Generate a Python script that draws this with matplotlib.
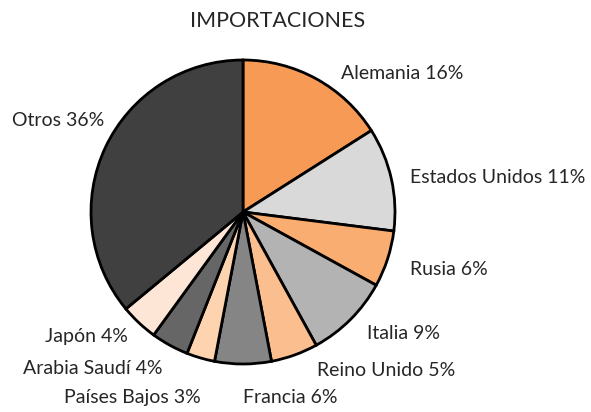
import matplotlib
matplotlib.use("Agg")
import matplotlib.pyplot as plt

# data
paises = ["Alemania", "Estados Unidos", "Rusia", "Italia", "Reino Unido",
          "Francia", "Países Bajos", "Arabia Saudí", "Japón", "Otros"]
porcentajes = [16, 11, 6, 9, 5, 6, 3, 4, 4, 36]
colores = ["#F79A55", "#D9D9D9", "#F9AD70", "#B3B3B3", "#FBBE8E",
           "#858585", "#FDD4AF", "#666666", "#FEE6D6", "#404040"]

# label spots (pie units) and alignment
pos_etiquetas = [(0.645, 0.91), (1.10, 0.23), (1.10, -0.38), (0.815, -0.80),
                 (0.49, -1.04), (0.0, -1.22), (-0.28, -1.22), (-0.53, -1.03),
                 (-0.76, -0.82), (-0.91, 0.60)]
alineacion = ["left", "left", "left", "left", "left",
              "left", "right", "right", "right", "right"]

plt.rcParams['font.family'] = ['Lato', 'DejaVu Sans']

fig = plt.figure(figsize=(5.91, 4.12), dpi=100)
ax = fig.add_axes([0, 0, 1, 1])

etiquetas = [f"{p} {v}%" for p, v in zip(paises, porcentajes)]
wedges, textos = ax.pie(porcentajes, colors=colores, startangle=90,
                        counterclock=False, labels=etiquetas,
                        wedgeprops=dict(edgecolor="black", linewidth=2),
                        textprops=dict(fontsize=14, color="#262626"))

for t, (x, y), ha in zip(textos, pos_etiquetas, alineacion):
    t.set_position((x, y))
    t.set_ha(ha)
    t.set_va("center")

ax.set_xlim(-243 / 152, (591 - 243) / 152)
ax.set_ylim((212 - 412) / 152, 212 / 152)
ax.set_aspect("auto")
ax.axis("off")

fig.text(278 / 591, 1 - 21 / 412, "IMPORTACIONES", ha="center", va="center",
         fontsize=15.5, color="#262626")

fig.savefig("out.png", dpi=100)
